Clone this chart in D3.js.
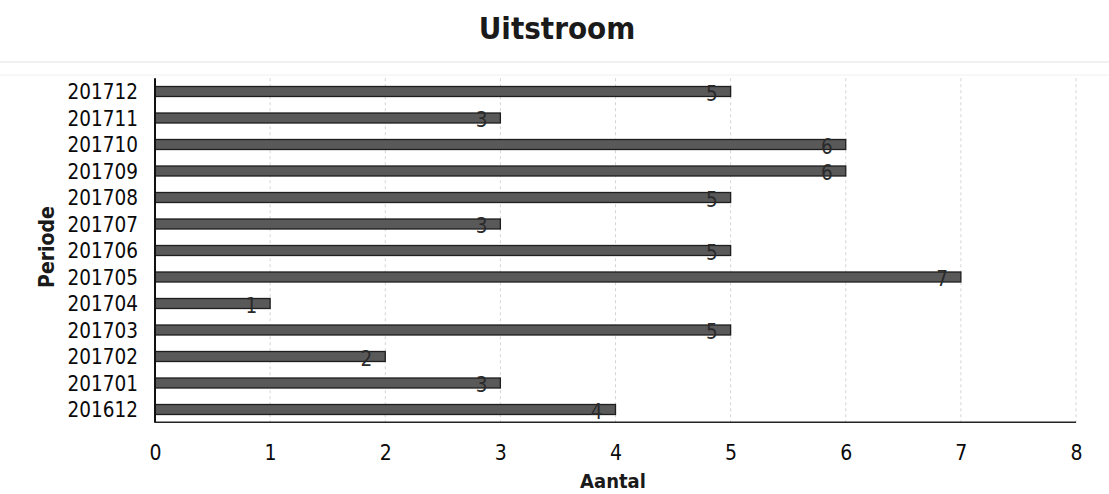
<!DOCTYPE html>
<html>
<head>
<meta charset="utf-8">
<script src="https://cdn.jsdelivr.net/npm/d3@7"></script>
<style>
  html, body { margin: 0; padding: 0; background: #fff; }
  svg { display: block; }
  text { font-family: "DejaVu Sans Condensed", "Liberation Sans", sans-serif; }
</style>
</head>
<body>
<svg id="chart" width="1109" height="494"></svg>
<script>
// Data (top to bottom as shown)
const periods = ["201712","201711","201710","201709","201708","201707","201706","201705","201704","201703","201702","201701","201612"];
const values  = [5, 3, 6, 6, 5, 3, 5, 7, 1, 5, 2, 3, 4];
const xTicks  = [0, 1, 2, 3, 4, 5, 6, 7, 8];
const chartTitle = "Uitstroom";
const xTitle = "Aantal";
const yTitle = "Periode";

(function () {
const svg = d3.select("#chart");
const W = 1109;
const pLeft = 155, pRight = 1076, pTop = 78.25, pBottom = 422.75;

const x = d3.scaleLinear().domain([0, 8]).range([pLeft, pRight]);
const y = d3.scaleBand().domain(periods).range([pTop, pBottom]).paddingInner(0.6).paddingOuter(0.3);

// faint scan frame lines
svg.append("line").attr("x1", 0).attr("x2", W).attr("y1", 62).attr("y2", 62)
  .attr("stroke", "#e2e2e2").attr("stroke-width", 1);
svg.append("line").attr("x1", 0).attr("x2", W).attr("y1", 75).attr("y2", 75)
  .attr("stroke", "#f0f0f0").attr("stroke-width", 1);

// vertical gridlines
svg.append("g").selectAll("line").data(xTicks.filter(d => d > 0)).join("line")
  .attr("x1", d => x(d)).attr("x2", d => x(d))
  .attr("y1", pTop).attr("y2", pBottom)
  .attr("stroke", "#d4d4d4").attr("stroke-width", 1).attr("stroke-dasharray", "3,3");

// bars
svg.append("g").selectAll("rect").data(periods).join("rect")
  .attr("x", x(0))
  .attr("y", d => y(d) + y.bandwidth() / 2 - 5)
  .attr("width", (d, i) => x(values[i]) - x(0))
  .attr("height", 10)
  .attr("fill", "#595959")
  .attr("stroke", "#1e1e1e")
  .attr("stroke-width", 1.3);

// value labels
svg.append("g").selectAll("text").data(periods).join("text")
  .attr("x", (d, i) => x(values[i]) - 13)
  .attr("y", d => y(d) + y.bandwidth() / 2 + 9)
  .attr("text-anchor", "end")
  .attr("font-size", 20.5)
  .attr("fill", "#2a2a2a")
  .text((d, i) => values[i]);

// axes lines
svg.append("line").attr("x1", pLeft).attr("x2", pLeft).attr("y1", pTop).attr("y2", pBottom)
  .attr("stroke", "#111").attr("stroke-width", 2);
svg.append("line").attr("x1", pLeft).attr("x2", pRight).attr("y1", pBottom - 0.5).attr("y2", pBottom - 0.5)
  .attr("stroke", "#222").attr("stroke-width", 1.5);

// y tick labels
const yAxis = d3.axisLeft(y).tickSize(0).tickPadding(17);
const gy = svg.append("g").attr("transform", `translate(${pLeft},0)`).call(yAxis);
gy.select(".domain").remove();
gy.selectAll("text").attr("font-size", 20.5).attr("fill", "#0a0a0a")
  .attr("font-family", "'DejaVu Sans Condensed', 'Liberation Sans', sans-serif")
  .attr("dy", "0.38em");

// x tick labels
const xAxis = d3.axisBottom(x).tickValues(xTicks).tickSize(0).tickPadding(22).tickFormat(d3.format("d"));
const gx = svg.append("g").attr("transform", `translate(0,${pBottom})`).call(xAxis);
gx.select(".domain").remove();
gx.selectAll("text").attr("font-size", 21).attr("fill", "#0a0a0a")
  .attr("font-family", "'DejaVu Sans Condensed', 'Liberation Sans', sans-serif");

// title
svg.append("text").attr("x", 557).attr("y", 39).attr("text-anchor", "middle")
  .attr("font-size", 31).attr("font-weight", "bold").attr("fill", "#1a1a1a")
  .text(chartTitle);

// axis titles
svg.append("text").attr("x", 613).attr("y", 488).attr("text-anchor", "middle")
  .attr("font-size", 20).attr("font-weight", "bold").attr("fill", "#1a1a1a")
  .text(xTitle);
svg.append("text").attr("transform", "translate(54,247) rotate(-90)").attr("text-anchor", "middle")
  .attr("font-size", 21).attr("font-weight", "bold").attr("fill", "#1a1a1a")
  .text(yTitle);
})();
</script>
</body>
</html>
